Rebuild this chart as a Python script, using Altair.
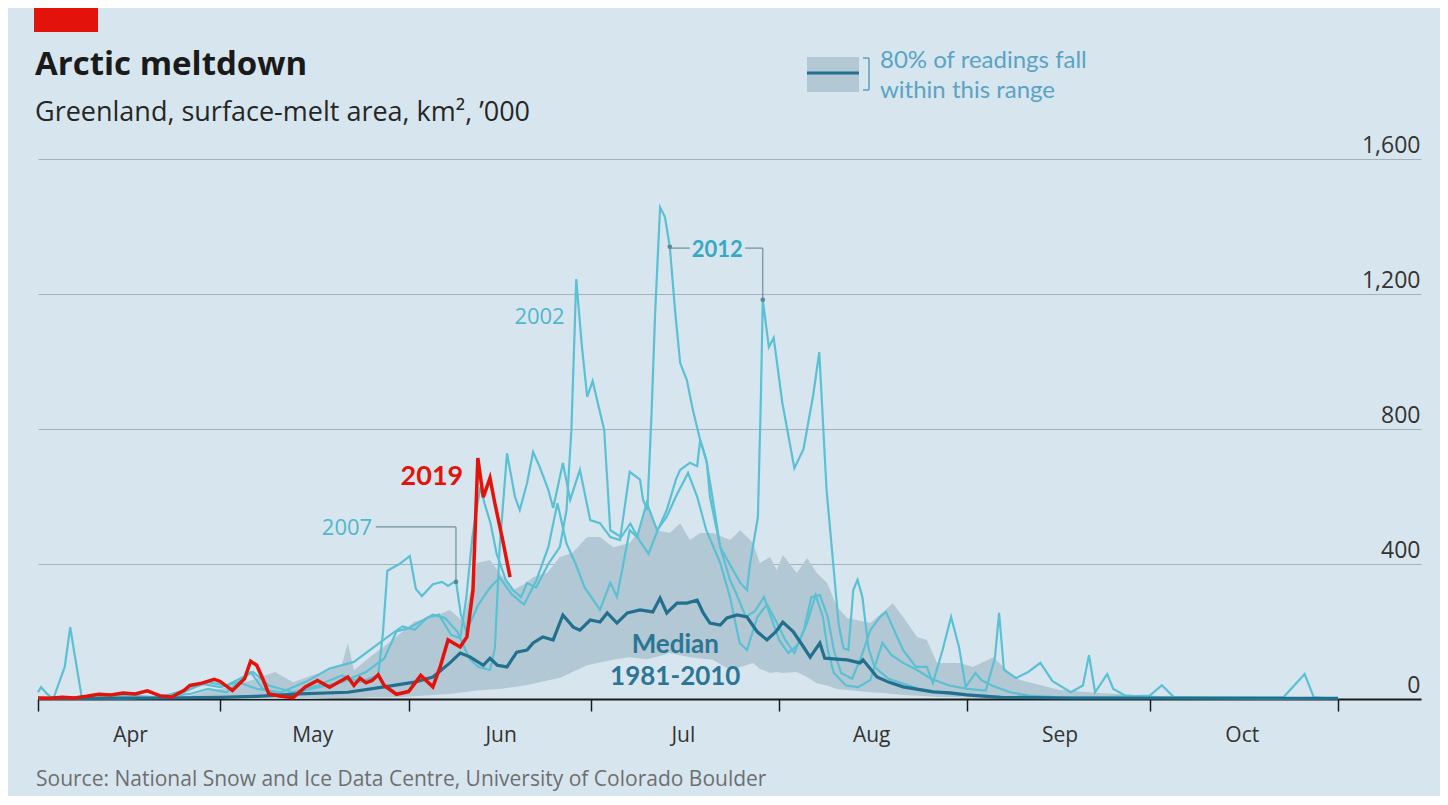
import altair as alt
import pandas as pd

# ---------------- data (day 0 = 1 April, day 214 = 1 November) ----------------
days_2019 = [0, 2, 4, 6, 8, 10, 12, 14, 16, 18, 20, 22, 24, 25, 27, 29, 30, 32, 34, 35,
             36, 37, 38, 40, 42, 44, 46, 48, 49, 51, 52, 53, 54, 55, 56, 57, 59, 61, 63, 65,
             66.2, 67.5, 69.5, 70.6, 71.6, 72.4, 73.3, 74.4, 75.2, 76.5, 77.7]
melt_2019 = [3, 2, 5, 3, 8, 14, 12, 18, 15, 24, 10, 6, 25, 40, 47, 58, 52, 25, 60, 112,
             100, 60, 15, 8, 4, 36, 55, 35, 45, 65, 40, 62, 48, 55, 72, 40, 14, 22, 70, 36,
             95, 175, 154, 184, 323, 714, 598, 655, 580, 470, 361]

days_2012 = [0, 10, 20, 25, 28, 31, 35, 37, 40, 45, 50, 54, 57, 59, 61, 63, 65, 67, 69, 71,
             72.5, 74.4, 75.2, 76, 77.2, 78.5, 79.3, 80.5, 81.5, 82.6, 84, 84.8, 86.4, 87.6, 89.2,
             90.9, 92.5, 94.2, 95.8, 97.4, 99.1, 99.6, 100.3, 101.0, 101.6, 102.4, 103.2, 104,
             104.9, 105.7, 106.8, 107.8, 109, 109.5, 110.1, 110.6, 112.3, 114.4, 115.6, 116.7,
             117.2, 118.5, 119, 119.3, 120.3, 121.1, 122.5, 124.5, 126, 127.6, 128.6, 129.8,
             130.8, 131.8, 132.6, 133.4, 134.2, 134.9, 135.7, 136.7, 137.7, 140, 145, 150, 155,
             160, 175, 183, 185, 187, 205, 208.5, 210, 214]
melt_2012 = [0, 0, 5, 15, 30, 20, 80, 30, 10, 30, 50, 80, 120, 200, 210, 230, 250, 240, 200, 120,
             95, 86, 150, 450, 728, 600, 560, 640, 732, 687, 620, 566, 699, 590, 679,
             530, 521, 480, 471, 673, 650, 590, 560, 850, 1150, 1457, 1428, 1340,
             1144, 996, 945, 856, 767, 738, 700, 600, 450, 382, 344, 323,
             400, 539, 900, 1183, 1043, 1070, 880, 684, 740, 900, 1028, 620,
             420, 220, 150, 145, 323, 353, 302, 150, 95, 60, 30, 15, 10,
             5, 5, 10, 41, 5, 5, 74, 5, 0]

days_2002 = [0, 0.5, 1.5, 2.5, 4.4, 5.3, 6.1, 7.2, 12, 20, 24, 27, 30, 33, 36, 40, 44, 48, 52, 55,
             58, 60, 62, 64, 66, 68, 69.5, 70.5, 71.5, 72.8, 73.5, 74.5, 75.5, 77, 78.2, 79.5,
             80.5, 82, 84, 85.9, 87, 87.8, 88.6, 89.5, 90.4, 91.3, 92.5, 93.2, 94.2, 96, 97.5,
             99, 100.5, 102, 103.5, 105, 105.7, 107.3, 108.5, 109, 110, 111, 112.3, 113.9, 114.9,
             116.5, 118, 119.5, 120.5, 122, 123.5, 125, 126.6, 128, 129.2, 130, 131, 133, 135,
             137, 139, 140.5, 142.4, 144.7, 147, 150, 153, 156, 157.5, 158.2, 159, 161, 163,
             165, 167, 170, 172, 173, 174, 176, 177, 179, 185, 214]
melt_2002 = [20, 35, 15, 0, 95, 213, 124, 5, 0, 5, 20, 45, 35, 50, 30, 20, 50, 90, 110, 150,
             190, 215, 205, 240, 250, 190, 180, 300, 480, 628, 580, 520, 430, 353, 323, 302,
             344, 330, 400, 450, 560, 797, 1244, 1050, 895, 942, 850, 797, 500, 480, 520,
             470, 430, 500, 560, 650, 679, 700, 690, 768, 708, 600, 450, 353, 314,
             243, 260, 302, 250, 175, 136, 160, 225, 308, 243, 145, 77, 40, 35,
             56, 166, 130, 107, 86, 60, 40, 30, 25, 120, 255, 86, 62, 80,
             107, 53, 20, 40, 130, 20, 74, 30, 10, 5, 0]

days_2007 = [0, 10, 15, 20, 25, 28, 31, 35.4, 38, 42, 46, 50, 53, 56, 56.8, 57.5, 59.5, 61.2, 62.2,
             63.2, 65, 66.5, 67.5, 68.8, 69.6, 70.5, 72.5, 74.4, 76, 78, 80, 82, 84, 85.5, 87,
             88.5, 90, 92.5, 94.2, 95.3, 97.4, 98.6, 100.2, 101.9, 103.5, 105, 107, 108.5, 110,
             112.3, 113.9, 115.5, 116.7, 118.4, 120, 121.5, 123, 124.5, 126, 127.3, 128.7, 130,
             131, 132.2, 134, 135.5, 137, 138.6, 139.6, 140.7, 142.4, 144.5, 146.3, 147.3, 148.9,
             150.3, 151.6, 152.7, 154.3, 155.3, 157, 160, 163, 168, 214]
melt_2007 = [0, 5, 10, 5, 30, 50, 40, 80, 40, 20, 40, 70, 50, 70, 200, 380, 400, 424, 326,
             305, 340, 347, 335, 350, 250, 200, 280, 330, 360, 310, 280, 350, 450, 580, 460,
             400, 330, 264, 344, 302, 500, 480, 581, 500, 540, 600, 670, 600, 500,
             403, 302, 166, 145, 243, 280, 230, 175, 136, 200, 302, 308, 243,
             145, 77, 60, 124, 204, 243, 258, 213, 145, 95, 95, 47, 145,
             243, 154, 36, 77, 56, 40, 20, 10, 5, 0]

median_days = [0, 10, 20, 30, 36, 43, 51, 57, 62, 65, 67.8, 69.5, 71.1, 73.3, 74.4, 75.6, 77.2,
               78.8, 80.5, 81.5, 83.1, 84.8, 86.4, 88.1, 89.2, 90.9, 92.5, 93.7, 95.3, 97, 99.1,
               101.2, 102.4, 103.5, 105.2, 106.8, 108.5, 109.5, 110.6, 112.3, 113.4, 115.1, 116.7,
               118.4, 120, 121.5, 122.6, 124.3, 125.8, 127.1, 128.7, 129.5, 131.5, 133.2, 135.3,
               135.8, 138.1, 140, 142.4, 147.3, 150.1, 152.9, 158.4, 170, 214]
median_vals = [2, 2, 3, 5, 8, 15, 20, 36, 50, 65, 107, 136, 125, 100, 121, 100, 95,
               139, 145, 166, 184, 175, 249, 213, 204, 234, 228, 255, 225, 255, 264,
               258, 299, 255, 284, 284, 293, 255, 225, 219, 240, 249, 243,
               199, 175, 200, 228, 200, 160, 124, 166, 121, 118, 116, 107,
               116, 65, 50, 36, 21, 18, 12, 5, 3, 2]

band_days = [0, 20, 25, 28, 30, 33, 36, 39, 42, 45, 48, 50, 51, 52, 55, 58, 60, 62, 65, 67.8,
             70, 72.3, 74.4, 76, 78.2, 80, 81.5, 83.8, 85.9, 88, 90.4, 92.5, 94.7, 97.4, 99,
             100.2, 101.9, 104, 105.7, 107.3, 109, 111.1, 113.9, 115.6, 117.7, 118.8, 120.5,
             121.6, 122.6, 124.9, 126.6, 128.2, 129.9, 131.5, 133.2, 137, 139.1, 140.7, 142.4,
             144.7, 146.3, 148, 151.8, 153.9, 157.2, 159.5, 161.6, 163.8, 168.2, 174.8, 183,
             195, 214]
band_upper = [0, 2, 10, 25, 30, 45, 60, 80, 50, 70, 85, 100, 166, 85, 130, 170, 200, 230, 243, 264,
              230, 403, 412, 373, 323, 340, 361, 373, 421, 433, 480, 480, 450, 462, 500,
              590, 500, 492, 521, 471, 492, 492, 471, 500, 462, 403, 421,
              382, 427, 373, 418, 373, 344, 273, 240, 225, 258, 284, 243,
              184, 175, 107, 107, 95, 124, 86, 56, 47, 27, 18, 10,
              6, 3]
band_lower = [0, 0, 0, 0, 0, 0, 0, 0, 0, 0, 2, 3, 3, 3, 5, 5, 6, 8, 12, 15,
              20, 25, 28, 30, 35, 40, 45, 55, 62, 80, 100, 108, 116, 124, 120,
              118, 125, 136, 130, 124, 120, 116, 86, 95, 107, 90, 77,
              80, 77, 80, 65, 47, 40, 30, 27, 20, 18, 15, 12,
              10, 8, 6, 5, 4, 3, 3, 2, 2, 1, 1, 0,
              0, 0]

month_ticks = [0, 30, 61, 91, 122, 153, 183, 214]
month_names = ["Apr", "May", "Jun", "Jul", "Aug", "Sep", "Oct", ""]
y_ticks = [0, 400, 800, 1200, 1600]

# annotation anchors (data space)
leader_day = [55.6, 68.8, 104.0, 116.4, 119.3]
leader_day2 = [68.8, 68.8, 107.3, 119.3, 119.3]
leader_val = [510, 510, 1336, 1336, 1336]
leader_val2 = [510, 347, 1336, 1336, 1183]
dot_day = [68.8, 104.0, 119.3]
dot_val = [347, 1340, 1183]

# ---------------- styling ----------------
FONT = "Lato"
WIDE = "Open Sans"
BG = "#d7e6ee"
BAND = "#b3c8d5"
YEAR_C = "#5bc0d3"
MEDIAN_C = "#236f8e"
RED = "#e3120b"

label_expr = "".join(f"datum.value == {t} ? '{n}' : " for t, n in zip(month_ticks, month_names)) + "''"

x_axis = alt.Axis(values=month_ticks, labelExpr=label_expr, labelOffset=92, labelAlign="center",
                  labelBaseline="top", labelPadding=13, labelFontSize=21, labelColor="#333333",
                  labelFont=WIDE, tickSize=12, tickColor="#1a1a1a", tickWidth=1.5,
                  domainColor="#1a1a1a", domainWidth=2, grid=False, title=None,
                  labelFlush=False, labelOverlap=False)
y_axis = alt.Axis(orient="right", values=y_ticks, format=",d", grid=True, gridColor="#a4b2bb",
                  gridWidth=1, domain=False, ticks=False, labelAlign="right",
                  labelBaseline="alphabetic", labelPadding=-1, labelOffset=-7, labelFontSize=23,
                  labelColor="#333333", labelFont=WIDE, title=None, labelFlush=False,
                  labelOverlap=False)

XS = alt.Scale(domain=[0, 227.65], nice=False, zero=False)
YS = alt.Scale(domain=[0, 1600], nice=False)


def X(field="day"):
    return alt.X(f"{field}:Q", scale=XS, axis=x_axis)


def Y(field="value"):
    return alt.Y(f"{field}:Q", scale=YS, axis=y_axis)


def frame(d, v, name):
    return pd.DataFrame({"day": d, "value": v, "series": name})


band_df = pd.DataFrame({"day": band_days, "upper": band_upper, "lower": band_lower})
years_df = pd.concat([frame(days_2002, melt_2002, "2002"),
                      frame(days_2007, melt_2007, "2007"),
                      frame(days_2012, melt_2012, "2012")])
median_df = frame(median_days, median_vals, "median")
red_df = frame(days_2019, melt_2019, "2019")
leader_df = pd.DataFrame({"day": leader_day, "day2": leader_day2,
                          "value": leader_val, "value2": leader_val2})
dot_df = pd.DataFrame({"day": dot_day, "value": dot_val})

band = alt.Chart(band_df).mark_area(color=BAND, opacity=1).encode(
    x=X(), y=alt.Y("upper:Q", scale=YS, axis=y_axis), y2="lower:Q")
years = alt.Chart(years_df).mark_line(color=YEAR_C, strokeWidth=2.2).encode(
    x=X(), y=Y(), detail="series:N")
median = alt.Chart(median_df).mark_line(color=MEDIAN_C, strokeWidth=3.2).encode(x=X(), y=Y())
red = alt.Chart(red_df).mark_line(color=RED, strokeWidth=3.5).encode(x=X(), y=Y())
leaders = alt.Chart(leader_df).mark_rule(color="#6f8c9c", strokeWidth=1.2).encode(
    x=X(), x2="day2:Q", y=Y(), y2="value2:Q")
dots = alt.Chart(dot_df).mark_circle(color="#5f8598", size=22, opacity=1).encode(x=X(), y=Y())


def annot(text, day, value, color, size, weight="normal", align="left", font=FONT):
    df = pd.DataFrame({"day": [day], "value": [value], "t": [text]})
    return alt.Chart(df).mark_text(align=align, baseline="alphabetic", font=font, fontSize=size,
                                   fontWeight=weight, color=color).encode(x=X(), y=Y(), text="t:N")


def ptext(text, x, y, color, size, weight="normal", align="left", font=WIDE):
    df = pd.DataFrame({"t": [text]})
    return alt.Chart(df).mark_text(align=align, baseline="alphabetic", font=font, fontSize=size,
                                   fontWeight=weight, color=color).encode(
        x=alt.value(x), y=alt.value(y), text="t:N")


one = pd.DataFrame({"a": [0]})
red_block = alt.Chart(one).mark_rect(color=RED).encode(
    x=alt.value(-4), x2=alt.value(60), y=alt.value(-151), y2=alt.value(-127))
leg_rect = alt.Chart(one).mark_rect(color=BAND).encode(
    x=alt.value(769), x2=alt.value(821), y=alt.value(-102), y2=alt.value(-67))
leg_line = alt.Chart(one).mark_rule(color=MEDIAN_C, strokeWidth=3).encode(
    x=alt.value(769), x2=alt.value(821), y=alt.value(-86))
br_v = alt.Chart(one).mark_rule(color="#5a9fbf", strokeWidth=1.5).encode(
    x=alt.value(831), y=alt.value(-101), y2=alt.value(-69))
br_t = alt.Chart(one).mark_rule(color="#5a9fbf", strokeWidth=1.5).encode(
    x=alt.value(825), x2=alt.value(831), y=alt.value(-101))
br_b = alt.Chart(one).mark_rule(color="#5a9fbf", strokeWidth=1.5).encode(
    x=alt.value(825), x2=alt.value(831), y=alt.value(-69))

layers = [
    band, years, median, red, leaders, dots,
    annot("2019", 70.0, 634, RED, 27, "bold", "right"),
    annot("2002", 86.7, 1111, "#4fb6cb", 22, "normal", "right", WIDE),
    annot("2007", 55.0, 486, "#4fb6cb", 22, "normal", "right", WIDE),
    annot("2012", 111.8, 1310, "#36aac3", 22, "bold", "center"),
    annot("Median", 104.9, 136, "#2b7595", 26, "bold", "center"),
    annot("1981-2010", 104.9, 41, "#2b7595", 26, "bold", "center"),
    red_block,
    ptext("Arctic meltdown", -3, -84, "#1a1a1a", 33, "bold"),
    ptext("Greenland, surface-melt area, km², ’000", -3, -38, "#262626", 27),
    ptext("Source: National Snow and Ice Data Centre, University of Colorado Boulder", -2, 627,
          "#6e6e6e", 21),
    leg_rect, leg_line, br_v, br_t, br_b,
    ptext("80% of readings fall", 842, -91, "#5aa3c4", 24, font=FONT),
    ptext("within this range", 842, -61, "#5aa3c4", 24, font=FONT),
]

chart = alt.layer(*layers).properties(
    width=1383, height=540,
    padding={"left": 30, "top": 151, "right": 19, "bottom": 97},
    autosize=alt.AutoSizeParams(type="none"),
    background=BG,
).configure_view(stroke=None)

chart.save("out.html", embed_options={"renderer": "svg", "actions": False})
